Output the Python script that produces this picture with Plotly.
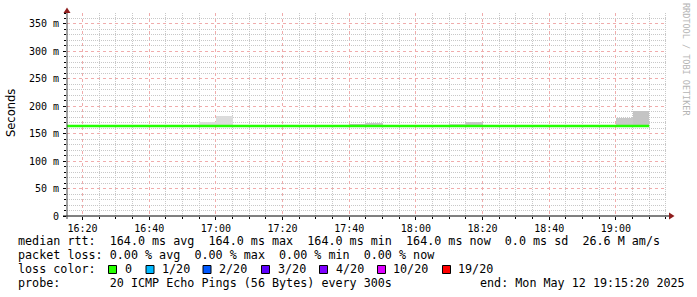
import plotly.graph_objects as go
import pandas as pd

# ---------------- data ----------------
DAY = "2025-05-12 "
window_start = DAY + "16:15:20"
window_end = DAY + "19:15:20"

# 5-minute steps of the median rtt (ms), step start times
median_times = pd.date_range(DAY + "16:15", DAY + "19:10", freq="5min")
median_ms = [164.0, 164.0, 164.0, 164.0, 164.0, 164.0, 164.0, 164.0, 164.0,
             164.0, 164.0, 164.0, 164.0, 164.0, 164.0, 164.0, 164.0, 164.0,
             164.0, 164.0, 164.0, 164.0, 164.0, 164.0, 164.0, 164.0, 164.0,
             164.0, 164.0, 164.0, 164.0, 164.0, 164.0, 164.0, 164.0, 164.0]

# smoke (spread of pings above the median) per step
smoke_start = ["16:55", "17:00", "17:40", "17:45", "18:10", "18:15", "19:00", "19:05"]
smoke_max = [171.5, 182.0, 167.0, 170.0, 167.5, 172.0, 178.5, 192.0]
smoke_color = ["#dcdcdc", "#dcdcdc", "#c2c2c2", "#c6c6c6", "#d2d2d2", "#c6c6c6", "#c8c8c8", "#c4c4c4"]

y_tick_vals = [0, 50, 100, 150, 200, 250, 300, 350]
y_tick_text = ["0", "50 m", "100 m", "150 m", "200 m", "250 m", "300 m", "350 m"]
x_tick_times = ["16:20", "16:40", "17:00", "17:20", "17:40", "18:00", "18:20", "18:40", "19:00"]

loss_labels = ["0", "1/20", "2/20", "3/20", "4/20", "10/20", "19/20"]
loss_colors = ["#26ff00", "#00b8ff", "#0059ff", "#5e00ff", "#7e00ff", "#dd00ff", "#ff0000"]

legend_line1 = "median rtt:  164.0 ms avg  164.0 ms max  164.0 ms min  164.0 ms now  0.0 ms sd  26.6 M am/s"
legend_line2 = "packet loss: 0.00 % avg  0.00 % max  0.00 % min  0.00 % now"
legend_line4 = "probe:       20 ICMP Echo Pings (56 Bytes) every 300s"
end_text = "end: Mon May 12 19:15:20 2025"

# ---------------- layout geometry (pixels) ----------------
W, H = 697, 297
L, R, T, B = 67, 30, 13, 81
PW, PH = W - L - R, H - T - B


def px(x):
    return (x - L) / PW


def py(y):
    return (H - B - y) / PH


def nb(s):
    return s.replace(" ", "\u00a0")


MONO = "DejaVu Sans Mono"
grid_major = "#f0acac"
grid_minor = "#c8c8c8"

# minor grid positions not coinciding with the major grid
x_minor = [t.strftime("%Y-%m-%d %H:%M") for t in
           pd.date_range(DAY + "16:15", DAY + "19:15", freq="5min") if t.minute % 20 != 0]
y_minor = [v for v in range(10, 371, 10) if v % 50 != 0]

fig = go.Figure()

fig.add_trace(go.Bar(
    x=[DAY + s for s in smoke_start],
    y=[m - 164.0 for m in smoke_max],
    base=[164.0] * len(smoke_max),
    width=[300000] * len(smoke_max),
    offset=0,
    marker=dict(color=smoke_color, line=dict(width=0)),
    hoverinfo="skip",
))

fig.add_trace(go.Scatter(
    x=list(median_times) + [pd.Timestamp(DAY + "19:10")],
    y=median_ms + [median_ms[-1]],
    mode="lines",
    line=dict(color="#22ff00", width=2.6, shape="hv"),
    hoverinfo="skip",
))

fig.update_layout(
    width=W, height=H,
    margin=dict(l=L, r=R, t=T, b=B, pad=0),
    paper_bgcolor="white", plot_bgcolor="white",
    showlegend=False, bargap=0,
    xaxis=dict(
        type="date", range=[window_start, window_end],
        tickmode="array", tickvals=[DAY + t for t in x_tick_times], ticktext=x_tick_times,
        showgrid=True, gridcolor=grid_major, gridwidth=1, griddash="dot",
        ticks="outside", ticklen=3, tickcolor="#000",
        tickfont=dict(family=MONO, size=10, color="#000"),
        minor=dict(tickmode="array", tickvals=x_minor, showgrid=True,
                   gridcolor=grid_minor, griddash="1px,1px",
                   ticks="outside", ticklen=2, tickcolor="#000"),
        showline=False, zeroline=False, fixedrange=True,
    ),
    yaxis=dict(
        range=[0, 370], tickvals=y_tick_vals, ticktext=y_tick_text,
        showgrid=True, gridcolor=grid_major, gridwidth=1, griddash="dot",
        ticks="outside", ticklen=3, tickcolor="#000",
        tickfont=dict(family=MONO, size=10, color="#000"),
        minor=dict(tickmode="array", tickvals=y_minor, showgrid=True,
                   gridcolor=grid_minor, griddash="1px,1px",
                   ticks="outside", ticklen=2, tickcolor="#000"),
        showline=False, zeroline=False, fixedrange=True,
        ticklabelstandoff=2,
    ),
)

shapes = []
# axis lines
shapes.append(dict(type="line", xref="paper", yref="paper",
                   x0=px(63), x1=px(670), y0=py(216), y1=py(216),
                   line=dict(color="#000", width=1)))
shapes.append(dict(type="line", xref="paper", yref="paper",
                   x0=px(67), x1=px(67), y0=py(219), y1=py(12),
                   line=dict(color="#444", width=1)))
# arrows
shapes.append(dict(type="path", xref="paper", yref="paper",
                   path=f"M {px(63.5)} {py(13)} L {px(70.5)} {py(13)} L {px(67)} {py(7.5)} Z",
                   fillcolor="#8e1c1c", line=dict(width=0)))
shapes.append(dict(type="path", xref="paper", yref="paper",
                   path=f"M {px(669)} {py(212.5)} L {px(669)} {py(219.5)} L {px(674.5)} {py(216)} Z",
                   fillcolor="#8e1c1c", line=dict(width=0)))

annotations = []
annotations.append(dict(text="Seconds", xref="paper", yref="paper",
                        x=px(11), y=py(113), textangle=-90, showarrow=False,
                        xanchor="center", yanchor="middle",
                        font=dict(family="DejaVu Sans", size=11.5, color="#000")))
annotations.append(dict(text=nb("RRDTOOL / TOBI OETIKER"), xref="paper", yref="paper",
                        x=px(686), y=py(59), textangle=90, showarrow=False,
                        xanchor="center", yanchor="middle",
                        font=dict(family=MONO, size=8.5, color="#b4b4b4")))

LEG = dict(family=MONO, size=11.72, color="#000")


def add_text(s, x, y):
    annotations.append(dict(text=nb(s), xref="paper", yref="paper", x=px(x), y=py(y),
                            showarrow=False, xanchor="left", yanchor="middle", font=LEG))


add_text(legend_line1, 15.5, 241)
add_text(legend_line2, 15.5, 255)
add_text("loss color:", 15.5, 269)
add_text(legend_line4, 15.5, 283)
add_text(end_text, 477.5, 283)

sq_x = [108.5, 146, 203, 261.5, 319.5, 377.5, 442.5]
txt_x = [123, 159.5, 216.5, 276, 334, 391, 456]
for lab, col, sx, tx in zip(loss_labels, loss_colors, sq_x, txt_x):
    shapes.append(dict(type="rect", xref="paper", yref="paper",
                       x0=px(sx), x1=px(sx + 8), y0=py(265.5), y1=py(273.5),
                       fillcolor=col, line=dict(color="#000", width=1)))
    add_text(lab, tx, 269)

fig.update_layout(shapes=shapes, annotations=annotations)

fig.write_html("out.html")
